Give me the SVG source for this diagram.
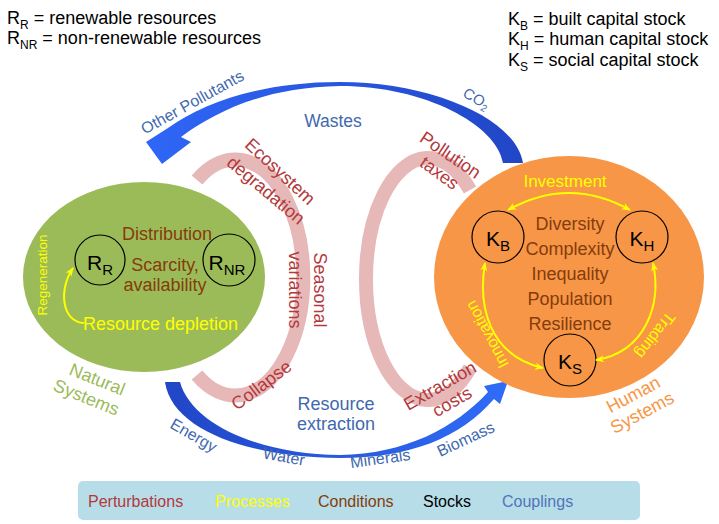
<svg xmlns="http://www.w3.org/2000/svg" width="719" height="524" viewBox="0 0 719 524">
<style>
text{font-family:"Liberation Sans",Arial,sans-serif;}
.def{font-size:18px;fill:#000;}
.sub{font-size:12px;}
.stk{font-size:21px;fill:#000;}
.stksub{font-size:15px;}
.circ{fill:none;stroke:#000;stroke-width:1.2;}
.cond{font-size:18px;fill:#843C0C;text-anchor:middle;}
.proc{fill:#FFFF00;}
.pert{font-size:18px;fill:#B3393C;text-anchor:middle;}
.coup{font-size:16px;fill:#4169AE;text-anchor:middle;}
.big{font-size:18px;}
.yarrow{fill:none;stroke:#FFFF00;stroke-width:2;}
.band{fill:none;stroke:#E6B8B7;stroke-width:14;}
.leg{font-size:16px;}
</style>
<defs>
<marker id="yh2" viewBox="0 0 10 10" refX="9" refY="5" markerWidth="9" markerHeight="9" orient="auto-start-reverse" markerUnits="userSpaceOnUse">
<path d="M0,1 L10,5 L0,9 L3,5 Z" fill="#FFFF00"/>
</marker>
<linearGradient id="gtop" x1="150" y1="0" x2="523" y2="0" gradientUnits="userSpaceOnUse">
<stop offset="0" stop-color="#2F66F7"/>
<stop offset="1" stop-color="#2146C6"/>
</linearGradient>
<linearGradient id="gbot" x1="165" y1="0" x2="508" y2="0" gradientUnits="userSpaceOnUse">
<stop offset="0" stop-color="#2146C6"/>
<stop offset="1" stop-color="#2F6CF7"/>
</linearGradient>
</defs>

<g id="legend-resources">
<text class="def" x="7" y="24">R<tspan class="sub" dy="5">R</tspan><tspan dy="-5"> = renewable resources</tspan></text>
<text class="def" x="7" y="44">R<tspan class="sub" dy="5">NR</tspan><tspan dy="-5"> = non-renewable resources</tspan></text>
</g>
<g id="legend-capital">
<text class="def" x="508" y="25">K<tspan class="sub" dy="5">B</tspan><tspan dy="-5"> = built capital stock</tspan></text>
<text class="def" x="508" y="45">K<tspan class="sub" dy="5">H</tspan><tspan dy="-5"> = human capital stock</tspan></text>
<text class="def" x="508" y="66">K<tspan class="sub" dy="5">S</tspan><tspan dy="-5"> = social capital stock</tspan></text>
</g>

<g id="perturbation-bands">
<path class="band" d="M197,180 A68,118 0 1 1 197,375"/>
<path class="band" d="M470,190 A62,121 0 1 0 470,368"/>
</g>

<g id="connectors">
<path id="wastes-arrow" fill="url(#gtop)" d="M523,163 C516,118 430,82 340,82 C262,82 205,102 168,128 L146,142 L162,164 L191,142 L181,137 C215,112 265,87 340,86 C425,86 497,125 503,163 Z"/>
<path id="extraction-arrow" fill="url(#gbot)" d="M165,382 C172,432 255,458 340,458 C410,458 460,438 494,399 L500,404 L508,381 L484,386 L488,392 C455,428 405,454 340,455 C262,455 192,425 180,382 Z"/>
</g>

<g id="node-natural">
<ellipse cx="144" cy="277" rx="121" ry="95" fill="#9BBB59"/>
<text class="cond" x="167" y="240">Distribution</text>
<text class="cond" x="165" y="271">Scarcity,</text>
<text class="cond" x="165" y="291">availability</text>
<text class="proc" x="83" y="330" style="font-size:18px">Resource depletion</text>
<text class="proc" text-anchor="middle" style="font-size:13.5px" transform="translate(47,275) rotate(-90)">Regeneration</text>
<text fill="#9BBB59" text-anchor="middle" style="font-size:18px" transform="translate(95,385) rotate(22)">Natural</text>
<text fill="#9BBB59" text-anchor="middle" style="font-size:18px" transform="translate(84,403) rotate(22)">Systems</text>
</g>
<g id="node-RR">
<circle class="circ" cx="100" cy="260" r="25"/>
<text class="stk" x="100" y="270" text-anchor="middle">R<tspan class="stksub" dy="5">R</tspan></text>
</g>
<g id="node-RNR">
<circle class="circ" cx="229" cy="260" r="26"/>
<text class="stk" x="227" y="270" text-anchor="middle">R<tspan class="stksub" dy="5">NR</tspan></text>
</g>

<g id="node-human">
<ellipse cx="569" cy="277" rx="135" ry="121" fill="#F79646"/>
<text class="cond" x="570" y="230">Diversity</text>
<text class="cond" x="570" y="255">Complexity</text>
<text class="cond" x="570" y="280">Inequality</text>
<text class="cond" x="570" y="305">Population</text>
<text class="cond" x="570" y="330">Resilience</text>
<text class="proc" x="565" y="187" text-anchor="middle" style="font-size:17px">Investment</text>
<text class="proc" text-anchor="middle" style="font-size:16px" transform="translate(492,332) rotate(-118)">Innovation</text>
<text class="proc" text-anchor="middle" style="font-size:16px" transform="translate(651,332) rotate(128)">Trading</text>
<text fill="#F79646" text-anchor="middle" style="font-size:18px" transform="translate(636,400) rotate(-28)">Human</text>
<text fill="#F79646" text-anchor="middle" style="font-size:18px" transform="translate(645,418) rotate(-28)">Systems</text>
</g>
<g id="node-KB">
<circle class="circ" cx="498" cy="237" r="26"/>
<text class="stk" x="498" y="246" text-anchor="middle">K<tspan class="stksub" dy="5">B</tspan></text>
</g>
<g id="node-KH">
<circle class="circ" cx="642" cy="237" r="26"/>
<text class="stk" x="642" y="246" text-anchor="middle">K<tspan class="stksub" dy="5">H</tspan></text>
</g>
<g id="node-KS">
<circle class="circ" cx="570" cy="360" r="26"/>
<text class="stk" x="570" y="369" text-anchor="middle">K<tspan class="stksub" dy="5">S</tspan></text>
</g>

<g id="process-arrows">
<path class="yarrow" d="M84,323 C62,322 58,290 73,268" marker-end="url(#yh2)"/>
<path class="yarrow" d="M508,210 Q569,176 630,210" marker-start="url(#yh2)" marker-end="url(#yh2)"/>
<path class="yarrow" d="M485,263 C478,305 488,355 543,368" marker-start="url(#yh2)" marker-end="url(#yh2)"/>
<path class="yarrow" d="M653,263 C662,305 645,352 596,360" marker-start="url(#yh2)" marker-end="url(#yh2)"/>
</g>

<g id="perturbation-labels">
<text class="pert" transform="translate(276,176) rotate(43)">Ecosystem</text>
<text class="pert" transform="translate(262,195) rotate(40)">degradation</text>
<text class="pert" transform="translate(314,290) rotate(90)">Seasonal</text>
<text class="pert" transform="translate(289,290) rotate(90)">variations</text>
<text class="pert" transform="translate(265,390) rotate(-37)">Collapse</text>
<text class="pert" transform="translate(447,160) rotate(34)">Pollution</text>
<text class="pert" transform="translate(436,178) rotate(36)">taxes</text>
<text class="pert" transform="translate(443,391) rotate(-30)">Extraction</text>
<text class="pert" transform="translate(455,407) rotate(-30)">costs</text>
</g>

<g id="coupling-labels">
<text class="coup" x="333" y="127" style="font-size:17.5px">Wastes</text>
<text class="coup" transform="translate(195,107) rotate(-29)">Other Pollutants</text>
<text class="coup" style="font-size:15px" transform="translate(474,103) rotate(30)">CO<tspan style="font-size:10px" dy="3">2</tspan></text>
<text class="coup big" x="336" y="410">Resource</text>
<text class="coup big" x="336" y="430">extraction</text>
<text class="coup" transform="translate(191,440) rotate(30)">Energy</text>
<text class="coup" transform="translate(283,462) rotate(10)">Water</text>
<text class="coup" transform="translate(381,464) rotate(-8)">Minerals</text>
<text class="coup" transform="translate(468,444) rotate(-25)">Biomass</text>
</g>

<g id="legend-categories">
<rect x="78" y="481" width="562" height="39" rx="5" fill="#B7DEE8"/>
<text class="leg" x="88" y="507" fill="#B3393C">Perturbations</text>
<text class="leg" x="215" y="507" fill="#FFFF00">Processes</text>
<text class="leg" x="318" y="507" fill="#843C0C">Conditions</text>
<text class="leg" x="423" y="507" fill="#000">Stocks</text>
<text class="leg" x="502" y="507" fill="#4F75B8">Couplings</text>
</g>
</svg>
